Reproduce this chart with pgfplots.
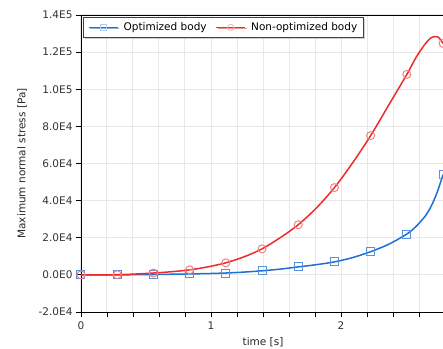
\documentclass[border=0pt]{standalone}
\usepackage{fontspec}
\setmainfont{DejaVu Sans}
\usepackage{pgfplots}
\pgfplotsset{compat=1.18}
\usetikzlibrary{shadows}
\definecolor{cblue}{RGB}{30,110,212}
\definecolor{cred}{RGB}{238,42,42}
\definecolor{gridc}{RGB}{232,232,232}
\begin{document}
\begin{tikzpicture}
\useasboundingbox (-81bp,-37bp) rectangle (362bp,312bp);
\clip (-81bp,-37bp) rectangle (362bp,312bp);
\begin{axis}[
  scale only axis, width=364bp, height=297bp,
  xmin=0, xmax=2.8, ymin=-20000, ymax=140000,
  xtick={0,1,2}, xticklabels={0,1,2},
  minor xtick={0.2,0.4,0.6,0.8,1.2,1.4,1.6,1.8,2.2,2.4,2.6},
  ytick={-20000,0,20000,40000,60000,80000,100000,120000,140000},
  yticklabels={-2.0E4,0.0E0,2.0E4,4.0E4,6.0E4,8.0E4,1.0E5,1.2E5,1.4E5},
  scaled y ticks=false,
  tick align=outside,
  major tick length=5bp, minor tick length=5bp,
  xtick pos=lower, ytick pos=left,
  xmajorgrids, xminorgrids, ymajorgrids,
  grid style={gridc, line width=1bp},
  minor grid style={gridc, line width=1bp},
  axis line style={black, line width=0.8bp},
  tick style={black, line width=0.8bp},
  font=\fontsize{10.5bp}{12.6bp}\selectfont,
  ticklabel style={text=black!80},
  xticklabel style={yshift=-1.5bp},
  xlabel={time [s]}, ylabel={Maximum normal stress [Pa]},
  every axis x label/.style={at={(axis description cs:0.5,0)}, anchor=center, yshift=-30bp, text=black!85},
  every axis y label/.style={at={(axis description cs:0,0.5)}, anchor=center, xshift=-59bp, rotate=90, text=black!85},
  legend columns=2,
  legend style={at={(axis description cs:0,1)}, anchor=north west, xshift=2.3bp, yshift=-2bp,
    draw=black!75, line width=0.8bp, fill=white, inner xsep=4.4bp, inner ysep=3.3bp,
    nodes={inner sep=2bp},
    drop shadow={shadow xshift=1.2bp, shadow yshift=-1.2bp, fill=black!35},
    font=\fontsize{10.5bp}{12.6bp}\selectfont,
    /tikz/every odd column/.append style={column sep=3bp},
    /tikz/every even column/.append style={column sep=7bp}},
]
\addplot[cblue, line width=1.5bp, smooth, mark=square, mark size=4bp,
  mark indices={1,3,5,7,9,11,13,15,17,19,25},
  mark options={solid, draw=cblue!75!white, line width=1bp, fill=none},
  legend image code/.code={\draw[cblue, line width=1.5bp] (0bp,0bp) -- (29bp,0bp);
    \path plot[mark=square, mark size=3bp, mark options={draw=cblue!35, fill=none, line width=0.8bp}] coordinates {(14.5bp,0bp)};}] table {
t y
0 0
0.13925 0
0.2785 0
0.41775 100
0.557 200
0.69625 350
0.8355 500
0.97475 700
1.114 1000
1.25325 1500
1.3925 2200
1.53175 3100
1.671 4300
1.81025 5500
1.9495 7000
2.08875 9300
2.228 12500
2.36725 16500
2.5065 22000
2.576 26000
2.646 31500
2.69 36500
2.72 41000
2.75 46500
2.785 54000
};
\addlegendentry{Optimized body}
\addplot[cred, line width=1.5bp, smooth, mark=o, mark size=4bp,
  mark indices={1,3,5,7,9,11,13,15,17,19,25},
  mark options={solid, draw=cred!60!white, line width=1bp, fill=none},
  legend image code/.code={\draw[cred, line width=1.5bp] (0bp,0bp) -- (29bp,0bp);
    \path plot[mark=o, mark size=3.2bp, mark options={draw=cred!35, fill=none, line width=0.8bp}] coordinates {(14.5bp,0bp)};}] table {
t y
0 0
0.13925 0
0.2785 100
0.41775 450
0.557 1000
0.69625 1700
0.8355 2700
0.97475 4300
1.114 6500
1.25325 9700
1.3925 14000
1.53175 20000
1.671 27000
1.81025 36000
1.9495 47000
2.08875 60300
2.228 75000
2.36725 91500
2.5065 108000
2.576 117000
2.646 124300
2.69 127600
2.72 128300
2.75 128000
2.785 124700
};
\addlegendentry{Non-optimized body}
\end{axis}
\end{tikzpicture}
\end{document}
